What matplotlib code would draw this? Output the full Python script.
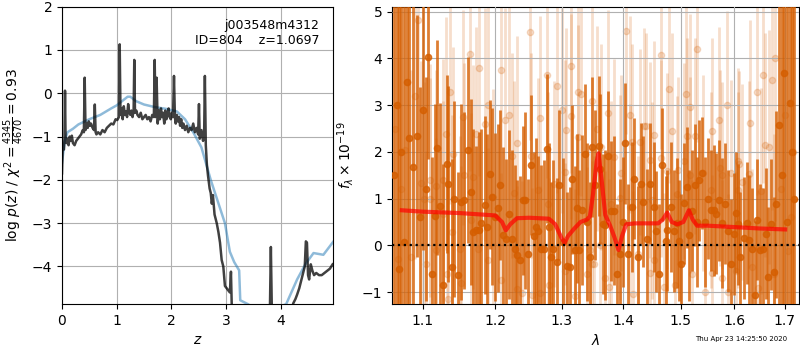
import matplotlib

matplotlib.use("Agg")
import matplotlib.pyplot as plt
import numpy as np

# redshift PDF panel
pz_z = [0.00, 0.01, 0.02, 0.035, 0.045, 0.055, 0.065, 0.08, 0.10, 0.12, 0.14, 0.16,
        0.18, 0.20, 0.23, 0.26, 0.29, 0.32, 0.35, 0.38, 0.40, 0.415, 0.43, 0.45,
        0.47, 0.49, 0.51, 0.53, 0.56, 0.585, 0.60, 0.615, 0.63, 0.66, 0.70, 0.74,
        0.78, 0.82, 0.86, 0.90, 0.94, 0.98, 1.01, 1.04, 1.055, 1.07, 1.09, 1.11,
        1.13, 1.15, 1.17, 1.19, 1.21, 1.23, 1.25, 1.27, 1.29, 1.31, 1.322, 1.335,
        1.36, 1.38, 1.41, 1.44, 1.47, 1.50, 1.53, 1.56, 1.59, 1.62, 1.65, 1.68,
        1.695, 1.71, 1.73, 1.75, 1.77, 1.79, 1.81, 1.83, 1.85, 1.87, 1.89, 1.91,
        1.93, 1.95, 1.97, 1.99, 2.01, 2.03, 2.048, 2.065, 2.08, 2.10, 2.12, 2.14,
        2.16, 2.18, 2.20, 2.22, 2.25, 2.28, 2.31, 2.34, 2.37, 2.40, 2.43, 2.46,
        2.49, 2.505, 2.52, 2.55, 2.58, 2.60, 2.613, 2.63, 2.65, 2.67, 2.70, 2.72,
        2.74, 2.76, 2.79, 2.83, 2.86, 2.89, 2.92, 2.95, 2.98, 3.01, 3.04, 3.07,
        3.09, 3.11, 3.80, 3.82, 3.84, 4.20, 4.23, 4.27, 4.30, 4.34, 4.38, 4.42,
        4.44, 4.46, 4.48, 4.50, 4.52, 4.55, 4.58, 4.61, 4.65, 4.70, 4.75, 4.80,
        4.85, 4.90, 4.95]
pz_logp = [-1.85, -1.35, -1.2, -1.3, -1.05, 0.06, -1.0, -1.15, -1.05, -1.2, -1.0, -1.1,
           -0.98, -1.15, -1.2, -1.1, -1.05, -1.0, -0.95, -0.85, -0.9, 0.36, -0.85, -0.7,
           -0.8, -0.65, -0.75, -0.7, -0.8, -0.85, -0.26, -0.9, -0.95, -0.9, -0.95, -0.85,
           -0.9, -0.8, -0.75, -0.7, -0.72, -0.6, -0.62, -0.55, 1.13, -0.5, -0.35, -0.6,
           -0.3, -0.5, -0.42, -0.55, -0.25, -0.45, -0.5, -0.4, -0.55, -0.4, 0.77, -0.45,
           -0.4, -0.5, -0.55, -0.45, -0.6, -0.55, -0.5, -0.6, -0.55, -0.65, -0.5, -0.55,
           0.77, -0.55, 0.36, -0.7, -0.4, -0.6, -0.35, -0.55, -0.45, -0.7, -0.4, -0.6,
           -0.5, -0.35, -0.55, -0.6, -0.45, -0.55, 0.4, -0.55, -0.7, -0.5, -0.65, -0.55,
           -0.75, -0.6, -0.8, -0.7, -0.85, -0.75, -0.9, -0.8, -0.85, -0.7, -0.9, -0.8,
           -0.95, -0.25, -1.05, -0.85, -1.1, -0.9, 0.4, -1.2, -1.65, -1.9, -2.2, -2.3,
           -2.55, -2.35, -2.8, -3.0, -3.2, -3.45, -3.85, -4.0, -4.45, -4.5, -4.55, -4.6,
           -4.12, -5.2, -5.2, -3.55, -5.2, -5.0, -4.85, -4.75, -4.65, -4.5, -4.3, -4.1,
           -4.0, -3.42, -3.45, -4.2, -4.3, -3.95, -4.1, -4.2, -4.15, -4.2, -4.2, -4.15,
           -4.1, -4.05, -3.95]

prior_z = [0.00, 0.05, 0.10, 0.20, 0.30, 0.50, 0.70, 0.90, 1.00, 1.10, 1.20, 1.25,
           1.35, 1.50, 1.70, 1.90, 2.10, 2.25, 2.40, 2.55, 2.72, 2.85, 2.98, 3.07,
           3.15, 3.24, 3.26, 3.40, 3.50, 3.95, 4.10, 4.30, 4.45, 4.60, 4.78, 4.96]
prior_logp = [-1.6, -1.1, -0.9, -0.82, -0.72, -0.6, -0.5, -0.35, -0.28, -0.18, -0.08, -0.08,
              -0.18, -0.26, -0.32, -0.36, -0.42, -0.6, -0.9, -1.25, -2.0, -2.5, -3.0, -3.66,
              -3.9, -4.09, -4.78, -4.87, -4.95, -4.95, -4.87, -4.3, -3.95, -3.69, -3.73, -3.43]

# 1D spectrum panel: optimally binned points
spec_wave = [1.063, 1.066, 1.069, 1.072, 1.076, 1.079, 1.082, 1.087, 1.092, 1.096,
             1.100, 1.104, 1.107, 1.112, 1.116, 1.119, 1.123, 1.127, 1.132, 1.134,
             1.139, 1.142, 1.147, 1.152, 1.156, 1.162, 1.165, 1.169, 1.173, 1.177,
             1.180, 1.185, 1.189, 1.192, 1.195, 1.200, 1.204, 1.207, 1.212, 1.216,
             1.220, 1.224, 1.229, 1.232, 1.237, 1.241, 1.244, 1.249, 1.253, 1.257,
             1.261, 1.264, 1.268, 1.273, 1.277, 1.280, 1.284, 1.287, 1.292, 1.296,
             1.302, 1.309, 1.313, 1.317, 1.321, 1.325, 1.328, 1.333, 1.337, 1.341,
             1.345, 1.349, 1.354, 1.359, 1.362, 1.366, 1.370, 1.375, 1.380, 1.384,
             1.390, 1.395, 1.399, 1.403, 1.408, 1.414, 1.419, 1.425, 1.430, 1.434,
             1.441, 1.446, 1.452, 1.456, 1.461, 1.467, 1.473, 1.476, 1.482, 1.488,
             1.493, 1.497, 1.501, 1.506, 1.511, 1.515, 1.520, 1.526, 1.530, 1.534,
             1.539, 1.545, 1.551, 1.556, 1.561, 1.565, 1.570, 1.576, 1.582, 1.588,
             1.593, 1.599, 1.603, 1.607, 1.612, 1.618, 1.625, 1.629, 1.634, 1.640,
             1.645, 1.651, 1.657, 1.662, 1.667, 1.672, 1.678, 1.683, 1.689, 1.694,
             1.699, 1.704, 1.710, 1.715, 1.719]
spec_flux = [1.5, 3.0, -0.5, 2.0, 0.07, 3.5, 2.29, 1.68, 2.34, 0.6,
             2.89, 1.2, 4.04, -0.61, 0.62, 2.09, 0.84, -0.86, 1.74, 1.32,
             -0.46, 1.0, -0.64, 0.93, 0.96, 2.04, 1.14, 0.29, 0.32, 0.32,
             0.48, 0.86, 0.39, 1.52, 1.04, 0.61, 0.79, 1.29, 0.21, 0.14,
             0.66, 0.14, -0.07, -0.21, -0.32, 0.96, 0.96, -0.18, 1.71, 0.19,
             0.39, 0.31, -0.07, -0.07, 2.07, 0.39, -0.25, -0.07, -0.36, 1.29,
             0.07, -0.45, -0.46, 1.41, -0.11, 0.79, -0.09, 0.76, 1.95, 0.5,
             -0.24, 2.11, 1.29, 2.12, 1.63, 0.45, 0.43, 1.91, 0.74, 0.74,
             -0.62, -0.18, 0.5, 2.18, -0.18, 0.82, 1.43, -0.24, 1.32, 0.93,
             0.14, 1.32, 0.82, 0.3, -0.62, 1.73, 0.09, 0.32, 0.82, 0.31,
             0.48, 0.1, -0.41, 0.9, 1.24, 0.21, 0.74, 1.29, 0.5, 1.39,
             1.54, 0.5, 1.0, 0.75, 0.75, 0.68, 0.96, 0.48, 0.89, 0.31,
             -0.41, 0.24, 0.7, 0.45, -0.25, 0.16, 0.48, 0.11, -0.07, -1.07,
             0.55, -0.09, -0.07, 0.25, -0.68, 0.45, -0.57, 0.88, 2.57, 1.5,
             3.69, 0.5, 3.04, 2.0, 1.0]
spec_err = [7.0, 7.0, 7.0, 6.5, 6.0, 6.0, 5.0, 4.0, 2.6, 2.8,
            3.0, 2.4, 2.2, 2.5, 2.4, 2.3, 2.2, 2.6, 1.9, 2.1,
            2.3, 2.1, 2.2, 2.1, 1.9, 2.0, 2.0, 2.2, 1.8, 2.1,
            2.0, 1.9, 2.0, 1.6, 1.9, 1.8, 1.8, 1.6, 1.9, 1.7,
            1.8, 1.9, 1.8, 1.6, 1.8, 1.6, 1.9, 1.6, 1.5, 1.8,
            1.9, 1.6, 1.8, 1.9, 1.6, 1.8, 1.6, 1.9, 1.8, 1.6,
            1.8, 1.6, 1.7, 1.6, 1.8, 1.6, 1.7, 1.6, 1.5, 1.7,
            1.6, 1.5, 1.6, 1.5, 1.6, 1.5, 1.6, 1.4, 1.5, 1.6,
            1.5, 1.6, 1.4, 1.3, 1.5, 1.4, 1.3, 1.5, 1.3, 1.4,
            1.5, 1.3, 1.4, 1.3, 1.5, 1.2, 1.4, 1.3, 1.4, 1.3,
            1.4, 1.3, 1.5, 1.3, 1.3, 1.4, 1.3, 1.3, 1.4, 1.3,
            1.2, 1.4, 1.3, 1.3, 1.4, 1.3, 1.3, 1.4, 1.3, 1.3,
            1.4, 1.3, 1.3, 1.3, 1.4, 1.3, 1.3, 1.4, 1.3, 1.6,
            1.3, 1.4, 1.3, 1.4, 1.5, 1.4, 1.6, 2.0, 4.0, 5.0,
            6.0, 6.0, 6.5, 7.0, 7.0]

# unbinned points, drawn faint underneath
raw_wave = [1.064, 1.068, 1.071, 1.077, 1.084, 1.090, 1.094, 1.097, 1.102, 1.104,
            1.109, 1.110, 1.117, 1.118, 1.127, 1.127, 1.131, 1.132, 1.134, 1.136,
            1.139, 1.141, 1.150, 1.152, 1.154, 1.156, 1.164, 1.165, 1.168, 1.173,
            1.176, 1.177, 1.185, 1.190, 1.190, 1.197, 1.209, 1.209, 1.215, 1.220,
            1.225, 1.228, 1.232, 1.232, 1.240, 1.252, 1.253, 1.255, 1.264, 1.267,
            1.267, 1.277, 1.279, 1.281, 1.288, 1.293, 1.301, 1.305, 1.305, 1.307,
            1.314, 1.314, 1.321, 1.326, 1.326, 1.331, 1.340, 1.345, 1.349, 1.349,
            1.352, 1.356, 1.361, 1.363, 1.369, 1.374, 1.376, 1.379, 1.384, 1.394,
            1.397, 1.405, 1.412, 1.412, 1.414, 1.416, 1.425, 1.428, 1.436, 1.438,
            1.446, 1.446, 1.450, 1.452, 1.452, 1.465, 1.465, 1.471, 1.476, 1.479,
            1.484, 1.490, 1.493, 1.495, 1.507, 1.510, 1.511, 1.517, 1.517, 1.520,
            1.526, 1.530, 1.541, 1.545, 1.556, 1.557, 1.557, 1.571, 1.572, 1.576,
            1.576, 1.586, 1.588, 1.594, 1.603, 1.607, 1.607, 1.610, 1.614, 1.629,
            1.630, 1.634, 1.644, 1.647, 1.652, 1.656, 1.660, 1.669, 1.675, 1.679,
            1.680, 1.692, 1.700, 1.706, 1.712, 1.717]
raw_flux = [2.5, -0.3, 1.2, 2.05, -0.25, 3.2, 4.82, 1.34, 1.0, -0.39,
            0.99, 1.39, -0.11, 1.26, 1.39, 0.68, 2.39, -0.61, -1.14, 3.28,
            0.29, 1.95, -0.07, -0.81, 2.74, 1.5, 4.09, 0.54, 1.46, 2.38,
            -0.07, 3.79, 2.59, 3.01, -0.31, 1.04, 3.76, -0.75, 2.68, 2.8,
            1.92, 1.12, 2.18, -0.93, -1.02, 4.56, 1.92, -1.07, 1.18, 2.72,
            -1.02, 3.64, 0.88, -0.86, 1.31, 3.42, 2.89, 1.56, -0.54, 2.46,
            3.84, 2.76, -1.09, 3.28, 2.32, 3.25, -0.62, -0.11, 3.09, -0.39,
            -0.39, 2.5, 0.0, 2.11, -0.71, 2.84, -0.89, 0.89, 1.89, 1.02,
            1.54, 4.59, 2.8, 0.82, 2.21, -1.04, -0.18, 2.21, 2.55, 2.55,
            1.82, -0.59, 0.96, 2.37, -0.32, 4.07, 1.86, -0.89, 1.59, 3.34,
            2.44, -0.86, 1.09, 1.61, 1.8, 3.25, 2.34, 2.96, 1.5, -0.61,
            2.34, 4.21, 1.54, -1.0, 1.19, 2.44, -0.59, 2.68, 1.66, 1.5,
            -0.71, 3.01, -1.0, 1.54, -0.54, 1.8, 1.19, 1.74, 1.36, 1.52,
            2.62, -0.46, 3.28, -0.91, 1.16, 3.64, 2.14, 2.11, 3.55, -0.61,
            4.02, 1.2, 2.8, -0.12, 0.6, 2.0]
raw_err = [7.0, 7.0, 6.5, 5.0, 4.0, 3.5, 2.8, 2.6, 2.5, 2.4,
           2.6, 2.5, 2.4, 2.5, 2.6, 2.4, 2.5, 2.4, 2.5, 2.4,
           2.5, 2.3, 2.4, 2.5, 2.3, 2.4, 2.5, 2.3, 2.4, 2.3,
           2.4, 2.3, 2.5, 2.3, 2.4, 2.3, 2.4, 2.3, 2.4, 2.3,
           2.2, 2.4, 2.3, 2.2, 2.4, 2.3, 2.2, 2.3, 2.4, 2.2,
           2.3, 2.2, 2.4, 2.3, 2.2, 2.3, 2.2, 2.4, 2.3, 2.2,
           2.3, 2.2, 2.3, 2.2, 2.4, 2.2, 2.3, 2.2, 2.3, 2.2,
           2.3, 2.2, 2.3, 2.2, 2.3, 2.2, 2.3, 2.2, 2.1, 2.2,
           2.1, 2.2, 2.1, 2.2, 2.1, 2.2, 2.1, 2.0, 2.1, 2.0,
           2.1, 2.0, 2.1, 2.0, 2.1, 2.0, 2.1, 2.0, 2.1, 2.0,
           2.1, 2.0, 2.1, 2.0, 2.1, 2.0, 2.1, 2.0, 2.1, 2.0,
           2.1, 2.0, 2.1, 2.0, 2.1, 2.0, 2.1, 2.0, 2.1, 2.0,
           2.1, 2.0, 2.1, 2.0, 2.1, 2.0, 2.1, 2.0, 2.1, 2.0,
           2.2, 2.1, 2.2, 2.1, 2.2, 2.3, 2.4, 2.5, 2.8, 3.0,
           3.5, 5.0, 6.0, 6.5, 7.0, 7.0]

# best-fit model
model_wave = [1.0726, 1.10, 1.15, 1.20, 1.21, 1.2155, 1.222, 1.232, 1.25, 1.28,
              1.29, 1.30, 1.3045, 1.31, 1.32, 1.33, 1.34, 1.345, 1.35, 1.356,
              1.359, 1.364, 1.37, 1.378, 1.385, 1.392, 1.398, 1.405, 1.42, 1.46,
              1.468, 1.476, 1.484, 1.494, 1.505, 1.515, 1.522, 1.53, 1.55, 1.60,
              1.65, 1.701]
model_flux = [0.75, 0.72, 0.69, 0.64, 0.5, 0.32, 0.45, 0.58, 0.59, 0.57,
              0.45, 0.15, 0.05, 0.2, 0.36, 0.5, 0.55, 0.62, 1.1, 1.8,
              1.97, 1.4, 0.65, 0.42, 0.18, -0.1, 0.2, 0.45, 0.47, 0.47,
              0.55, 0.7, 0.5, 0.45, 0.5, 0.75, 0.55, 0.42, 0.42, 0.39,
              0.36, 0.34]

DATA_COLOR = "#d55e00"
GRID = dict(color="#b0b0b0", linewidth=0.8)

fig = plt.figure(figsize=(8, 3.5), dpi=100)
ax_pz = fig.add_axes([0.0775, 0.131, 0.339, 0.85])
ax_sp = fig.add_axes([0.49, 0.131, 0.509, 0.85])

# p(z)
ax_pz.plot(prior_z, prior_logp, color="tab:blue", alpha=0.5, lw=1.8)
ax_pz.plot(pz_z, pz_logp, color="k", alpha=0.75, lw=1.8)
ax_pz.set_xlim(0, 4.96)
ax_pz.set_ylim(-4.87, 2.0)
ax_pz.set_xticks([0, 1, 2, 3, 4])
ax_pz.set_yticks([-4, -3, -2, -1, 0, 1, 2])
ax_pz.grid(**GRID)
ax_pz.set_xlabel(r"$z$")
ax_pz.set_ylabel(r"log $p(z)$ / $\chi^2=\frac{4345}{4670}=0.93$")
ax_pz.text(0.95, 0.96, "j003548m4312\nID=804    z=1.0697", transform=ax_pz.transAxes,
           ha="right", va="top", fontsize=9)

# spectrum
ax_sp.errorbar(raw_wave, raw_flux, yerr=raw_err, marker="o", linestyle="None",
               color=DATA_COLOR, alpha=0.2, markersize=4.5, elinewidth=2.0, zorder=2)
ax_sp.errorbar(spec_wave, spec_flux, yerr=spec_err, marker="o", linestyle="None",
               color=DATA_COLOR, alpha=0.8, markersize=4.5, elinewidth=2.0, zorder=3)
ax_sp.plot(model_wave, model_flux, color="r", alpha=0.7, lw=3, zorder=4)
ax_sp.axhline(0, color="k", linestyle=":", lw=1.6, zorder=5)

ax_sp.set_xscale("log")
ax_sp.set_xlim(1.06, 1.73)
ax_sp.set_ylim(-1.26, 5.11)
xt = [1.1, 1.2, 1.3, 1.4, 1.5, 1.6, 1.7]
ax_sp.set_xticks(xt)
ax_sp.set_xticklabels([f"{t:.1f}" for t in xt])
ax_sp.xaxis.set_minor_locator(matplotlib.ticker.NullLocator())
ax_sp.set_yticks([-1, 0, 1, 2, 3, 4, 5])
ax_sp.grid(**GRID)
ax_sp.set_axisbelow(False)
ax_sp.set_xlabel(r"$\lambda$")
ax_sp.set_ylabel(r"$f_\lambda\times10^{-19}$")

fig.text(0.984, 0.031, "Thu Apr 23 14:25:50 2020", ha="right", va="center", fontsize=5)

fig.savefig("out.png", dpi=100)
